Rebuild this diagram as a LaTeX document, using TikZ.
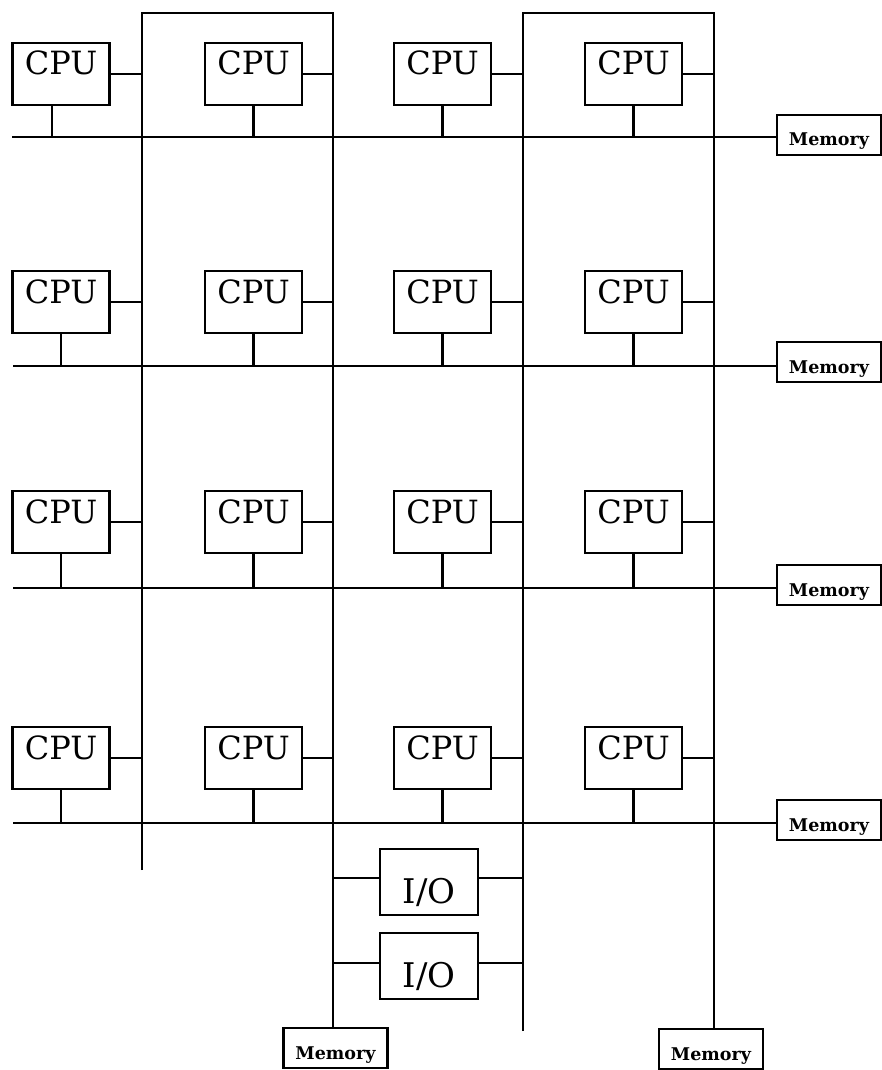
\documentclass[tikz,border=0pt]{standalone}
\usepackage{fontspec}
\setmainfont{DejaVu Serif}
\begin{document}
\begin{tikzpicture}[x=1pt,y=-1pt,
  wire/.style={line width=2.5pt},
  cpubox/.style={draw,line width=2.8pt,minimum width=97pt,inner sep=0pt,text height=32pt,text depth=30pt,font=\fontsize{32}{32}\selectfont},
  membox/.style={draw,line width=2.8pt,minimum width=104pt,inner sep=0pt,text height=31pt,text depth=9pt,font=\bfseries\fontsize{17.5}{18}\selectfont},
  iobox/.style={draw,line width=2.8pt,minimum width=98pt,inner sep=0pt,text height=54pt,text depth=12pt,font=\fontsize{34}{34}\selectfont}]
\useasboundingbox (0,0) rectangle (882,1070);
\coordinate (v1t) at (142,13);
\coordinate (v2t) at (333,13);
\coordinate (v3t) at (523,13);
\coordinate (v4t) at (714,13);
\coordinate (v1b) at (142,870);
\coordinate (v3b) at (523,1031);
\coordinate (hl1) at (12,137);
\coordinate (hl2) at (13,366);
\coordinate (hl3) at (13,588);
\coordinate (hl4) at (13,823);
\foreach \r/\y in {1/74,2/302,3/522,4/758}
  \foreach \c/\x in {1/61,2/253.5,3/442.5,4/633.5}
    \node[cpubox] (c\r\c) at (\x,\y) {CPU};
\node[membox] (m1) at (829,135) {Memory};
\node[membox] (m2) at (829,362) {Memory};
\node[membox] (m3) at (829,585) {Memory};
\node[membox] (m4) at (829,820) {Memory};
\node[membox] (mb1) at (335.5,1048) {Memory};
\node[membox] (mb2) at (711,1049) {Memory};
\node[iobox] (io1) at (429,882) {I/O};
\node[iobox] (io2) at (429,966) {I/O};
% vertical buses
\draw[wire] (v1b) -- (v1t) -- (v2t) -- (mb1.north -| v2t);
\draw[wire] (v3b) -- (v3t) -- (v4t) -- (mb2.north -| v4t);
% horizontal buses
\foreach \r in {1,...,4}
  \draw[wire] (hl\r) -- (hl\r -| m\r.west);
% CPU connectors
\foreach \r in {1,...,4}{
  \draw[wire] (c\r1.east) -- (c\r1.east -| v1t);
  \draw[wire] (c\r2.east) -- (c\r2.east -| v2t);
  \draw[wire] (c\r3.east) -- (c\r3.east -| v3t);
  \draw[wire] (c\r4.east) -- (c\r4.east -| v4t);
}
\draw[wire] ([xshift=-9pt]c11.south) -- ([xshift=-9pt]c11.south |- hl1);
\foreach \r/\c in {2/1,3/1,4/1,1/2,2/2,3/2,4/2,1/3,2/3,3/3,4/3,1/4,2/4,3/4,4/4}
  \draw[wire] (c\r\c.south) -- (c\r\c.south |- hl\r);
% I/O connectors
\draw[wire] ([yshift=4pt]io1.west) -- ([yshift=4pt]io1.west -| v2t);
\draw[wire] ([yshift=4pt]io1.east) -- ([yshift=4pt]io1.east -| v3t);
\draw[wire] ([yshift=3pt]io2.west) -- ([yshift=3pt]io2.west -| v2t);
\draw[wire] ([yshift=3pt]io2.east) -- ([yshift=3pt]io2.east -| v3t);
\end{tikzpicture}
\end{document}
